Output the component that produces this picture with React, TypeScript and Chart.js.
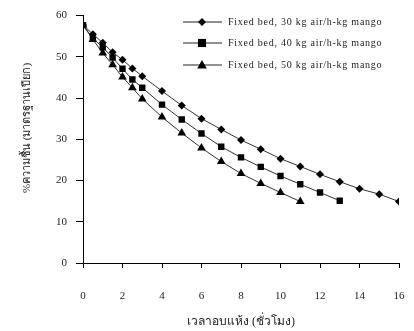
import React, { useEffect, useRef } from "react";
import { Chart, registerables } from "chart.js";

Chart.register(...registerables);

const hours30 = [0, 0.5, 1, 1.5, 2, 2.5, 3, 4, 5, 6, 7, 8, 9, 10, 11, 12, 13, 14, 15, 16];
const moisture30 = [57.7, 55.5, 53.4, 51.1, 49.3, 47.2, 45.3, 41.7, 38.2, 35.0, 32.4, 29.8, 27.6, 25.3, 23.4, 21.5, 19.7, 18.0, 16.7, 14.9];

const hours40 = [0, 0.5, 1, 1.5, 2, 2.5, 3, 4, 5, 6, 7, 8, 9, 10, 11, 12, 13];
const moisture40 = [57.7, 54.5, 52.3, 49.8, 47.1, 44.5, 42.5, 38.4, 34.8, 31.4, 28.2, 25.6, 23.3, 21.1, 19.1, 17.1, 15.1];

const hours50 = [0, 0.5, 1, 1.5, 2, 2.5, 3, 4, 5, 6, 7, 8, 9, 10, 11];
const moisture50 = [57.7, 54.2, 50.9, 48.1, 45.1, 42.5, 39.8, 35.4, 31.5, 27.9, 24.6, 21.7, 19.3, 17.1, 14.9];

const seriesLabels = [
  "Fixed bed, 30 kg air/h-kg mango",
  "Fixed bed, 40 kg air/h-kg mango",
  "Fixed bed, 50 kg air/h-kg mango",
];
const pointStyles = ["rectRot", "rect", "triangle"];
const pointRadii = [4, 4.5, 5];

const xTitle = "เวลาอบแห้ง (ชั่วโมง)";
const yTitle = "%ความชื้น (มาตรฐานเปียก)";

const FONT = "'Liberation Serif', 'Times New Roman', serif";

function drawMarker(ctx: CanvasRenderingContext2D, style: string, x: number, y: number, r: number) {
  ctx.beginPath();
  if (style === "rectRot") {
    ctx.moveTo(x, y - r);
    ctx.lineTo(x + r, y);
    ctx.lineTo(x, y + r);
    ctx.lineTo(x - r, y);
  } else if (style === "rect") {
    const s = r * 0.9;
    ctx.rect(x - s, y - s, 2 * s, 2 * s);
  } else {
    ctx.moveTo(x, y - r);
    ctx.lineTo(x + r * 0.95, y + r * 0.7);
    ctx.lineTo(x - r * 0.95, y + r * 0.7);
  }
  ctx.closePath();
  ctx.fill();
}

const legendPlugin = {
  id: "customLegend",
  afterDraw(chart: any) {
    const ctx = chart.ctx as CanvasRenderingContext2D;
    const rows = [22, 43, 65];
    ctx.save();
    chart.data.datasets.forEach((ds: any, i: number) => {
      const y = rows[i];
      ctx.strokeStyle = "#222";
      ctx.lineWidth = 1;
      ctx.beginPath();
      ctx.moveTo(183, y);
      ctx.lineTo(222, y);
      ctx.stroke();
      ctx.fillStyle = "#000";
      drawMarker(ctx, pointStyles[i], 202, y, pointRadii[i]);
      ctx.fillStyle = "#222";
      ctx.font = "10px " + FONT;
      (ctx as any).letterSpacing = "0.75px";
      ctx.textBaseline = "middle";
      ctx.textAlign = "left";
      ctx.fillText(ds.label, 228, y + 0.5);
    });
    ctx.restore();
    // y axis title
    ctx.save();
    ctx.translate(27, 128);
    ctx.rotate(-Math.PI / 2);
    ctx.fillStyle = "#222";
    ctx.font = "11px " + FONT;
    ctx.textAlign = "center";
    ctx.textBaseline = "middle";
    ctx.fillText(yTitle, 0, 0);
    ctx.restore();
  },
};

export default function App() {
  const ref = useRef<HTMLCanvasElement>(null);
  useEffect(() => {
    if (!ref.current) return;
    const mk = (xs: number[], ys: number[]) => xs.map((x, i) => ({ x, y: ys[i] }));
    const datasets = [
      mk(hours30, moisture30),
      mk(hours40, moisture40),
      mk(hours50, moisture50),
    ].map((data, i) => ({
      label: seriesLabels[i],
      data,
      borderColor: "#333",
      borderWidth: 1,
      backgroundColor: "#000",
      pointBackgroundColor: "#000",
      pointBorderColor: "#000",
      pointBorderWidth: 0,
      pointStyle: pointStyles[i] as any,
      pointRadius: pointRadii[i],
      tension: 0,
      showLine: true,
      fill: false,
    }));
    const chart = new Chart(ref.current, {
      type: "scatter",
      data: { datasets },
      plugins: [legendPlugin],
      options: {
        animation: false,
        responsive: false,
        maintainAspectRatio: false,
        layout: { padding: { top: 15, right: 15, bottom: 2, left: 0 } },
        plugins: { legend: { display: false }, tooltip: { enabled: false } },
        scales: {
          x: {
            type: "linear",
            min: 0,
            max: 16,
            ticks: { stepSize: 2, color: "#222", font: { family: FONT, size: 11 }, padding: 22, maxRotation: 0 },
            grid: { display: true, drawOnChartArea: false, drawTicks: true, tickLength: 5, tickColor: "#000" } as any,
            border: { color: "#000", width: 1 },
            title: { display: true, text: xTitle, color: "#222", font: { family: FONT, size: 12 }, padding: { top: 0, bottom: 0 } },
            afterFit: (s: any) => { s.height = 66; s.paddingRight = 6; s.paddingLeft = 6; },
          },
          y: {
            min: 0,
            max: 60,
            ticks: { stepSize: 10, color: "#222", font: { family: FONT, size: 11 }, padding: 9 },
            grid: { display: true, drawOnChartArea: false, drawTicks: true, tickLength: 7, tickColor: "#000" } as any,
            border: { color: "#000", width: 1 },
            title: { display: false, text: yTitle },
            afterFit: (s: any) => { s.width = 83; },
          },
        },
      },
    });
    return () => chart.destroy();
  }, []);
  return (
    <div style={{ position: "fixed", left: 0, top: 0, width: 414, height: 331, background: "#fff" }}>
      <canvas ref={ref} width={414} height={331} style={{ width: 414, height: 331 }} />
    </div>
  );
}
